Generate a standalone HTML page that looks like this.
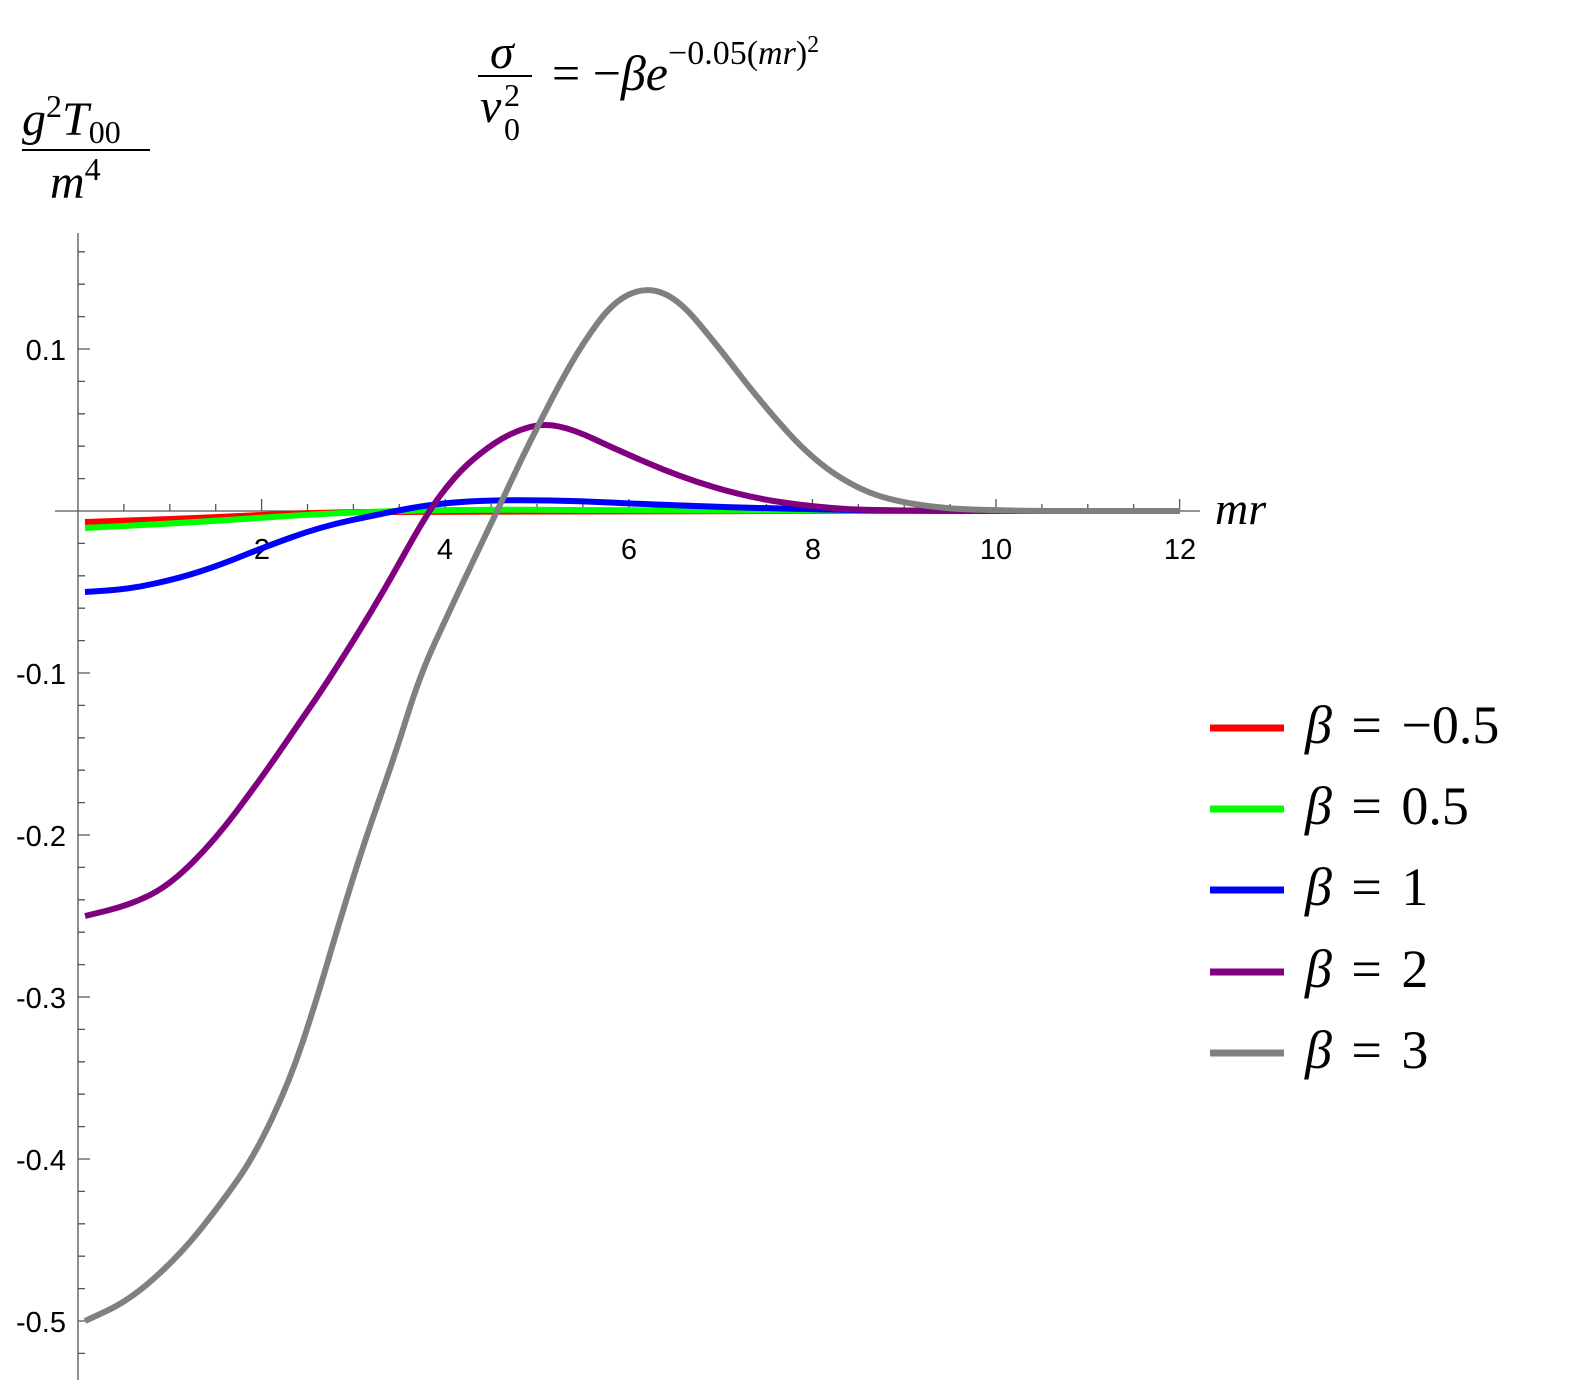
<!DOCTYPE html>
<html><head><meta charset="utf-8"><style>
body{margin:0;background:#fff}
svg{display:block}
.m{font-family:"Liberation Serif",serif;font-style:italic}
.r{font-family:"Liberation Serif",serif;font-style:normal}
.t{font-family:"Liberation Sans",sans-serif;font-size:29px}
</style></head><body>
<svg width="1575" height="1390" viewBox="0 0 1575 1390" xmlns="http://www.w3.org/2000/svg">
<g stroke="#555" stroke-width="1.3" fill="none">
<line x1="55" y1="511" x2="1200" y2="511"/>
<line x1="78" y1="233" x2="78" y2="1380"/>
<path d="M123.9,511v-7M169.8,511v-7M215.7,511v-7M261.6,511v-12M307.5,511v-7M353.4,511v-7M399.3,511v-7M445.2,511v-12M491.1,511v-7M537,511v-7M582.9,511v-7M628.8,511v-12M674.7,511v-7M720.6,511v-7M766.5,511v-7M812.4,511v-12M858.3,511v-7M904.2,511v-7M950.1,511v-7M996,511v-12M1041.9,511v-7M1087.8,511v-7M1133.7,511v-7M1179.6,511v-12"/>
<path d="M78,251.8h7M78,284.2h7M78,316.6h7M78,349h12M78,381.4h7M78,413.8h7M78,446.2h7M78,478.6h7M78,543.4h7M78,575.8h7M78,608.2h7M78,640.6h7M78,673h12M78,705.4h7M78,737.8h7M78,770.2h7M78,802.6h7M78,835h12M78,867.4h7M78,899.8h7M78,932.2h7M78,964.6h7M78,997h12M78,1029.4h7M78,1061.8h7M78,1094.2h7M78,1126.6h7M78,1159h12M78,1191.4h7M78,1223.8h7M78,1256.2h7M78,1288.6h7M78,1321h12M78,1353.4h7"/>
</g>
<g class="t" fill="#000">
<text x="262" y="559" text-anchor="middle">2</text>
<text x="445" y="559" text-anchor="middle">4</text>
<text x="629" y="559" text-anchor="middle">6</text>
<text x="813" y="559" text-anchor="middle">8</text>
<text x="996" y="559" text-anchor="middle">10</text>
<text x="1180" y="559" text-anchor="middle">12</text>
<g text-anchor="end">
<text x="66" y="360">0.1</text>
<text x="66" y="684">-0.1</text>
<text x="66" y="846">-0.2</text>
<text x="66" y="1008">-0.3</text>
<text x="66" y="1170">-0.4</text>
<text x="66" y="1332">-0.5</text>
</g></g>
<g fill="none" stroke-width="6" stroke-linejoin="round">
<path stroke="#f00" d="M85,522 L142.5,520 Q200,518 250,515.5 Q300,513 360,512 Q420,511 800,511 L1180,511"/>
<path stroke="#0f0" d="M85,528 L142.5,525 Q200,522 265,517.5 Q330,513 390,511.25 Q450,509.5 525,509.75 Q600,510 700,510.5 Q800,511 990,511 L1180,511"/>
<path stroke="#00f" d="M85,592 L107.5,590.5 Q130,589 155,583.5 Q180,578 200,571.5 Q220,565 241,556.5 Q262,548 291,537.5 Q320,527 350,520.5 Q380,514 403.5,509.5 Q427,505 448.5,503 Q470,501 495,500.5 Q520,500 550,500.5 Q580,501 610,502.5 Q640,504 695,506 Q750,508 825,509.5 Q900,511 1040,511 L1180,511"/>
<path stroke="#800080" d="M85,916 L107.5,910.5 Q130,905 150,895 Q170,885 192.5,862.5 Q215,840 237.5,810 Q260,780 280,751 Q300,722 315,700 Q330,678 355,638 Q380,598 403.5,555.5 Q427,513 441,494.5 Q455,476 467.5,464.5 Q480,453 495,443 Q510,433 526.5,428 Q543,423 559,426.5 Q575,430 594,439 Q613,448 646.5,462.5 Q680,477 713.5,487 Q747,497 780,502 Q813,507 846.5,509 Q880,511 1030,511 L1180,511"/>
<path stroke="#808080" d="M85,1321 L107.5,1310.5 Q130,1300 155,1277.5 Q180,1255 200,1230 Q220,1205 237.5,1180 Q255,1155 272.5,1117.5 Q290,1080 302.5,1042.5 Q315,1005 327.5,962.5 Q340,920 352.5,880 Q365,840 380,797.5 Q395,755 407.5,715 Q420,675 435,642.5 Q450,610 462.5,583.5 Q475,557 487.5,531 Q500,505 510,483.5 Q520,462 530,442 Q540,422 550,402.5 Q560,383 571.5,363 Q583,343 598,322.5 Q613,302 629,294.5 Q645,287 661,292.5 Q677,298 695,319 Q713,340 738,372.5 Q763,405 788,432.5 Q813,460 838,476 Q863,492 888,498.5 Q913,505 946.5,508 Q980,511 1080,511 L1180,511"/>
</g>
<g stroke-width="7">
<line x1="1210" y1="728" x2="1284" y2="728" stroke="#f00"/>
<line x1="1210" y1="809" x2="1284" y2="809" stroke="#0f0"/>
<line x1="1210" y1="890" x2="1284" y2="890" stroke="#00f"/>
<line x1="1210" y1="972" x2="1284" y2="972" stroke="#800080"/>
<line x1="1210" y1="1053" x2="1284" y2="1053" stroke="#808080"/>
</g>
<g class="r" font-size="54" fill="#000" word-spacing="6">
<text x="1305" y="743"><tspan class="m">β</tspan> = −0.5</text>
<text x="1305" y="824"><tspan class="m">β</tspan> = 0.5</text>
<text x="1305" y="905"><tspan class="m">β</tspan> = 1</text>
<text x="1305" y="987"><tspan class="m">β</tspan> = 2</text>
<text x="1305" y="1068"><tspan class="m">β</tspan> = 3</text>
</g>
<text class="m" x="1215" y="524" font-size="46">mr</text>
<g fill="#000">
<text class="m" x="22" y="135" font-size="48">g<tspan font-size="32" dy="-18" class="r">2</tspan><tspan dy="18">T</tspan><tspan font-size="32" dy="8" class="r">00</tspan></text>
<line x1="22" y1="150" x2="150" y2="150" stroke="#000" stroke-width="2"/>
<text class="m" x="50" y="198" font-size="48">m<tspan font-size="32" dy="-18" class="r">4</tspan></text>
<text class="m" x="490" y="68" font-size="48">σ</text>
<line x1="478" y1="76" x2="532" y2="76" stroke="#000" stroke-width="2"/>
<text class="m" x="480" y="122" font-size="48">v</text>
<text class="r" x="504" y="106" font-size="32">2</text>
<text class="r" x="504" y="140" font-size="32">0</text>
<text class="r" x="552" y="90" font-size="50">= −<tspan class="m">βe</tspan><tspan font-size="34" dy="-26">−0.05(<tspan class="m">mr</tspan>)</tspan><tspan font-size="24" dy="-12">2</tspan></text>
</g>
</svg>
</body></html>
